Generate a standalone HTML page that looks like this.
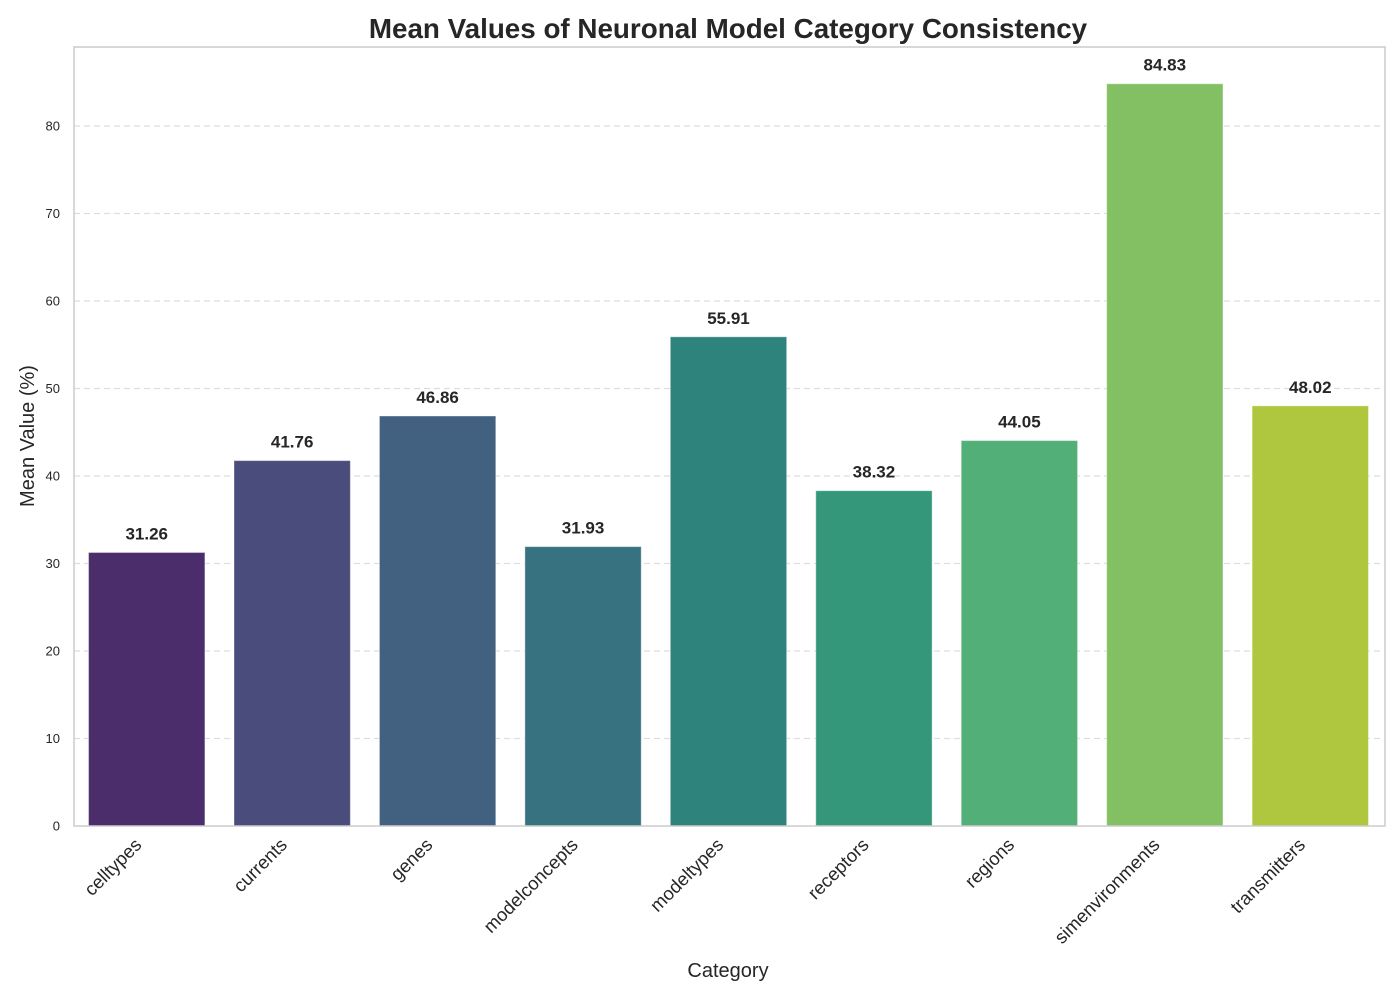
<!DOCTYPE html>
<html><head><meta charset="utf-8"><style>
body{margin:0;background:#fff;}
svg{display:block;font-family:"Liberation Sans",Arial,sans-serif;}
</style></head><body>
<svg id="chart" width="1400" height="1000" xmlns="http://www.w3.org/2000/svg">
<text x="728" y="38" text-anchor="middle" font-size="27.8" font-weight="bold" fill="#262626">Mean Values of Neuronal Model Category Consistency</text>
<g id="grid"></g>
<g id="bars"></g>
<g id="yticks"></g>
<g id="xticks"></g>
<rect x="74" y="47" width="1311" height="779" fill="none" stroke="#cccccc" stroke-width="1.5"/>
<text transform="translate(34,436) rotate(-90)" text-anchor="middle" font-size="20" fill="#262626">Mean Value (%)</text>
<text x="728" y="977" text-anchor="middle" font-size="20" fill="#262626">Category</text>
</svg>
<script>
const categories=["celltypes","currents","genes","modelconcepts","modeltypes","receptors","regions","simenvironments","transmitters"];
const values=[31.26,41.76,46.86,31.93,55.91,38.32,44.05,84.83,48.02];
const valueLabels=["31.26","41.76","46.86","31.93","55.91","38.32","44.05","84.83","48.02"];
const yTicks=[0,10,20,30,40,50,60,70,80];
const colors=["#4a2d6a","#4a4c7b","#42607f","#377280","#2e837c","#34977a","#52af77","#82c063","#aec73f"];
const NS="http://www.w3.org/2000/svg";
const L=74,R=1383,B=826,T=47,yMax=89.03;
const y=v=>B-(v/yMax)*(B-T);
const step=(R-L)/categories.length;
const x=i=>L+step*(i+0.5);
const bw=step*0.8;
function mk(t,a,p){const e=document.createElementNS(NS,t);for(const k in a)e.setAttribute(k,a[k]);p.appendChild(e);return e;}
const grid=document.getElementById('grid'),yt=document.getElementById('yticks'),bars=document.getElementById('bars'),xt=document.getElementById('xticks');
yTicks.forEach(v=>{
  if(v>0){const g=mk('line',{x1:L,x2:R,y1:y(v),y2:y(v),stroke:'#dddddd','stroke-width':1.2,'stroke-dasharray':'6,4'},grid);
  
  }
  const t=mk('text',{x:L-14,y:y(v)+4.5,'text-anchor':'end','font-size':13,fill:'#262626'},yt);t.textContent=v;
  
  
});
categories.forEach((c,i)=>{
  const r=mk('rect',{x:x(i)-bw/2,y:y(values[i]),width:bw,height:B-y(values[i]),fill:colors[i],stroke:'#ffffff','stroke-opacity':0.4},bars);
  
  
  const vt=mk('text',{x:x(i),y:y(values[i])-13,'text-anchor':'middle','font-size':17,'font-weight':'bold',fill:'#262626'},bars);vt.textContent=valueLabels[i];
  
  
  const t=mk('text',{transform:`translate(${x(i)-4},${B+20}) rotate(-45)`,'text-anchor':'end','font-size':18.5,fill:'#262626'},xt);t.textContent=c;
  
  
});
</script>
</body></html>
